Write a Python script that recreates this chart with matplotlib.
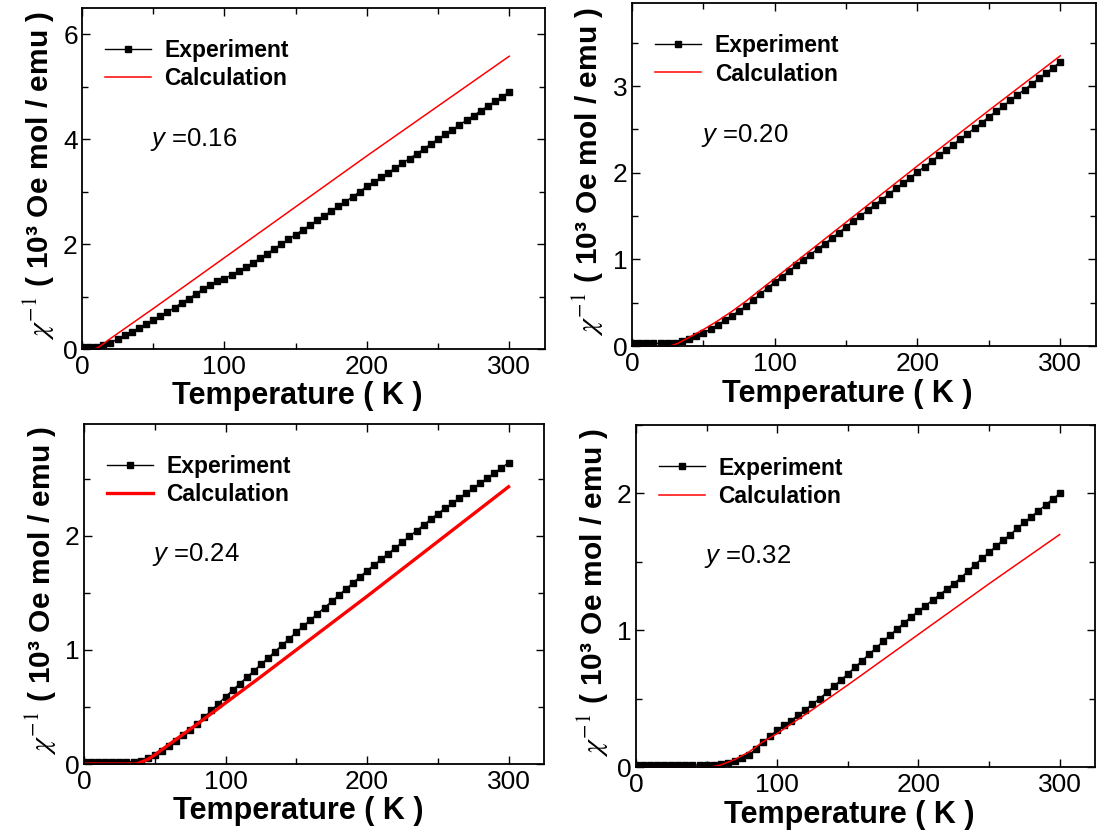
import matplotlib
matplotlib.use("Agg")
import matplotlib.pyplot as plt
from matplotlib.ticker import MultipleLocator

plt.rcParams["font.family"] = ["Liberation Sans", "DejaVu Sans"]
plt.rcParams["mathtext.fontset"] = "custom"
plt.rcParams["mathtext.rm"] = "Liberation Sans"
plt.rcParams["mathtext.it"] = "Liberation Sans:italic"
plt.rcParams["mathtext.bf"] = "Liberation Sans:bold"

# measured temperatures (K), every 5 K
temp_exp = list(range(0, 301, 5))

# y = 0.16
exp_016 = [0.03, 0.03, 0.03, 0.07, 0.12, 0.19, 0.26, 0.33, 0.40, 0.47, 0.55,
           0.62, 0.70, 0.79, 0.88, 0.96, 1.05, 1.14, 1.22, 1.29, 1.34,
           1.41, 1.48, 1.56, 1.64, 1.73, 1.82, 1.91, 2.00, 2.09, 2.18,
           2.27, 2.36, 2.45, 2.54, 2.63, 2.72, 2.81, 2.90, 3.00, 3.10,
           3.18, 3.27, 3.36, 3.45, 3.54, 3.63, 3.72, 3.81, 3.91, 4.00,
           4.09, 4.18, 4.27, 4.36, 4.45, 4.54, 4.63, 4.72, 4.81, 4.90]
calc_t_016 = [0, 9, 12, 20, 50, 100, 150, 200, 250, 300]
calc_016 = [0, 0, 0.04, 0.2, 0.77, 1.74, 2.71, 3.68, 4.63, 5.58]

# y = 0.20
exp_020 = [0.03, 0.03, 0.03, 0.03, 0.03, 0.03, 0.04, 0.06, 0.085, 0.115, 0.15,
           0.195, 0.24, 0.295, 0.35, 0.405, 0.46, 0.53, 0.60, 0.67, 0.74,
           0.80, 0.865, 0.93, 0.99, 1.055, 1.12, 1.18, 1.245, 1.31, 1.375,
           1.44, 1.50, 1.565, 1.63, 1.69, 1.755, 1.82, 1.88, 1.945, 2.01,
           2.07, 2.135, 2.20, 2.26, 2.325, 2.39, 2.45, 2.515, 2.58, 2.645,
           2.71, 2.77, 2.835, 2.90, 2.96, 3.025, 3.09, 3.15, 3.215, 3.28]
calc_t_020 = [0, 27, 32, 40, 50, 60, 70, 80, 90, 100, 150, 200, 250, 300]
calc_020 = [0, 0, 0.03, 0.1, 0.19, 0.29, 0.40, 0.52, 0.65, 0.78, 1.43, 2.08, 2.72, 3.35]

# y = 0.24
exp_024 = [0.02, 0.02, 0.02, 0.02, 0.02, 0.02, 0.02, 0.02, 0.03, 0.05, 0.08,
           0.115, 0.155, 0.20, 0.25, 0.30, 0.355, 0.41, 0.47, 0.53, 0.59,
           0.647, 0.703, 0.76, 0.816, 0.873, 0.929, 0.986, 1.042, 1.099, 1.155,
           1.21, 1.263, 1.317, 1.371, 1.425, 1.479, 1.533, 1.587, 1.641, 1.695,
           1.745, 1.795, 1.845, 1.895, 1.945, 1.995, 2.045, 2.095, 2.145, 2.195,
           2.24, 2.284, 2.329, 2.373, 2.418, 2.462, 2.507, 2.551, 2.596, 2.64]
calc_t_024 = [0, 37, 45, 50, 60, 70, 80, 100, 125, 150, 175, 200, 225, 250, 275, 300]
calc_024 = [0, 0, 0.04, 0.08, 0.17, 0.26, 0.35, 0.535, 0.765, 1.0, 1.235, 1.47, 1.71, 1.95, 2.19, 2.43]

# y = 0.32
exp_032 = [0.015, 0.015, 0.015, 0.015, 0.015, 0.015, 0.015, 0.015, 0.015, 0.015, 0.015,
           0.015, 0.02, 0.03, 0.045, 0.065, 0.09, 0.13, 0.18, 0.225, 0.27,
           0.305, 0.34, 0.38, 0.42, 0.46, 0.50, 0.545, 0.59, 0.635, 0.68,
           0.73, 0.775, 0.825, 0.87, 0.92, 0.965, 1.01, 1.055, 1.10, 1.14,
           1.18, 1.22, 1.26, 1.30, 1.34, 1.385, 1.43, 1.48, 1.525, 1.57,
           1.615, 1.66, 1.70, 1.745, 1.79, 1.83, 1.875, 1.915, 1.96, 2.0]
calc_t_032 = [0, 53, 60, 70, 80, 90, 100, 125, 150, 175, 200, 225, 250, 275, 300]
calc_032 = [0, 0, 0.015, 0.055, 0.11, 0.185, 0.245, 0.42, 0.60, 0.785, 0.97, 1.155, 1.34, 1.52, 1.70]

panels = [
    # label, exp, calc T, calc, ymax, y major step, red width, axes rect
    ("0.16", exp_016, calc_t_016, calc_016, 6.5, 2, 1.1, [0.0744, 0.5835, 0.420, 0.407]),
    ("0.20", exp_020, calc_t_020, calc_020, 3.96, 1, 1.1, [0.5735, 0.5871, 0.421, 0.4093]),
    ("0.24", exp_024, calc_t_024, calc_024, 2.98, 1, 2.4, [0.0762, 0.0883, 0.4174, 0.4057]),
    ("0.32", exp_032, calc_t_032, calc_032, 2.5, 1, 1.1, [0.5771, 0.0847, 0.4165, 0.408]),
]


def main():
    fig = plt.figure(figsize=(11.02, 8.38), dpi=100)

    for label, exp, calc_t, calc, ymax, ystep, red_lw, rect in panels:
        ax = fig.add_axes(rect)

        ax.plot(temp_exp, exp, color="black", linewidth=1.0, marker="s",
                markersize=5.0, label="Experiment")
        ax.plot(calc_t, calc, color="red", linewidth=red_lw, label="Calculation")

        ax.set_xlim(0, 325)
        ax.set_ylim(0, ymax)
        ax.xaxis.set_major_locator(MultipleLocator(100))
        ax.xaxis.set_minor_locator(MultipleLocator(50))
        ax.yaxis.set_major_locator(MultipleLocator(ystep))
        ax.yaxis.set_minor_locator(MultipleLocator(ystep / 2))

        ax.tick_params(which="both", direction="in", top=True, right=True,
                       labelsize=19, width=1.0)
        ax.tick_params(axis="x", pad=4)
        ax.tick_params(axis="y", pad=3)
        ax.tick_params(which="major", length=6)
        ax.tick_params(which="minor", length=4)
        for sp in ax.spines.values():
            sp.set_linewidth(1.3)

        ax.set_xlabel("Temperature ( K )", fontsize=22, fontweight="bold")
        ax.xaxis.set_label_coords(0.465, -0.095)
        ax.set_ylabel(r"$\chi^{-1}$ ( 10³ Oe mol / emu )", fontsize=21.5,
                      fontweight="bold", math_fontfamily="stix")
        ax.yaxis.set_label_coords(-0.055, 0.51)

        ax.text(0.148, 0.615, "$y$ =" + label, transform=ax.transAxes,
                fontsize=18.5, va="center", ha="left")

        ax.legend(loc="upper left", bbox_to_anchor=(0.03, 0.935), frameon=False,
                  numpoints=1, handlelength=2.0, handletextpad=0.6,
                  labelspacing=0.22, borderaxespad=0,
                  prop={"size": 16.5, "weight": "bold"})

    fig.savefig("out.png", dpi=100)
    plt.close(fig)


if __name__ == "__main__":
    main()
